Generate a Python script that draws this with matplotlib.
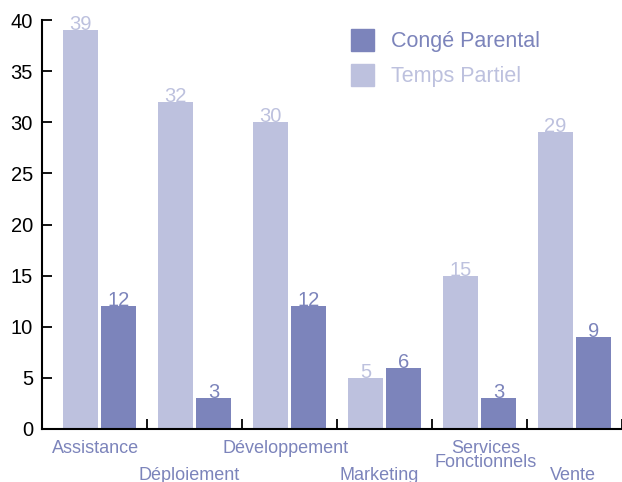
import numpy as np
import matplotlib
matplotlib.use('Agg')
import matplotlib.pyplot as plt
from matplotlib.patches import Patch
import matplotlib.transforms as mtransforms

plt.rcParams['font.family'] = ['Liberation Sans', 'DejaVu Sans']

categories = ['Assistance', 'Déploiement', 'Développement', 'Marketing',
              'Services\nFonctionnels', 'Vente']
temps_partiel = [39, 32, 30, 5, 15, 29]   # light bars
conge_parental = [12, 3, 12, 6, 3, 9]     # dark bars

light = '#bdc1de'
dark = '#7c84bb'

fig = plt.figure(figsize=(6.22, 4.82), dpi=100)
ax = fig.add_axes([42/622, 53/482, 580/622, 409/482])

x = np.arange(len(categories))
w = 0.37
off = 0.2
ax.bar(x - off, temps_partiel, width=w, color=light, label='Temps Partiel')
ax.bar(x + off, conge_parental, width=w, color=dark, label='Congé Parental')

# values on top of the bars
for xi, v in zip(x, temps_partiel):
    ax.text(xi - off, v, str(v), ha='center', va='baseline', fontsize=14.5, color=light)
for xi, v in zip(x, conge_parental):
    ax.text(xi + off, v, str(v), ha='center', va='baseline', fontsize=14.5, color=dark)

ax.set_xlim(-0.605, 5.5)
ax.set_ylim(0, 40)

for s in ['top', 'right']:
    ax.spines[s].set_visible(False)
ax.spines['left'].set_linewidth(1.5)
ax.spines['bottom'].set_linewidth(1.5)

ax.set_yticks(range(0, 41, 5))
ax.tick_params(axis='y', direction='in', length=7.5, width=1.3, pad=6.5,
               labelsize=14.5, colors='black')
ax.set_xticks(np.arange(0.5, 6, 1))
ax.set_xticklabels([])
ax.tick_params(axis='x', direction='in', length=7.5, width=1.3)

# staggered category labels (small horizontal nudges, in pixels)
nudge = [-4, -5.5, -4, -5.5, 6, -1.5]
trans = mtransforms.blended_transform_factory(ax.transData, ax.transAxes)
row1 = -(452.7 - 429) / 409
row2 = -(480 - 429) / 409
for i, name in enumerate(categories):
    xc = i + nudge[i] / 95
    if '\n' in name:
        first, second = name.split('\n')
        ax.text(xc, row1, first, transform=trans, ha='center', va='baseline',
                fontsize=13, color=dark, clip_on=False)
        ax.text(xc, -(467.3 - 429) / 409, second, transform=trans, ha='center',
                va='baseline', fontsize=13, color=dark, clip_on=False)
    else:
        ax.text(xc, row1 if i % 2 == 0 else row2, name, transform=trans,
                ha='center', va='baseline', fontsize=13, color=dark, clip_on=False)

handles = [Patch(color=dark), Patch(color=light)]
leg = fig.legend(handles, ['Congé Parental', 'Temps Partiel'],
                 loc='upper left', bbox_to_anchor=(351/622, 1 - 29/482),
                 frameon=False, fontsize=15.5, handlelength=1.07, handleheight=1.16,
                 handletextpad=0.8, labelspacing=0.56, borderpad=0, borderaxespad=0)
for t, c in zip(leg.get_texts(), [dark, light]):
    t.set_color(c)

fig.savefig('out.png', dpi=100)
